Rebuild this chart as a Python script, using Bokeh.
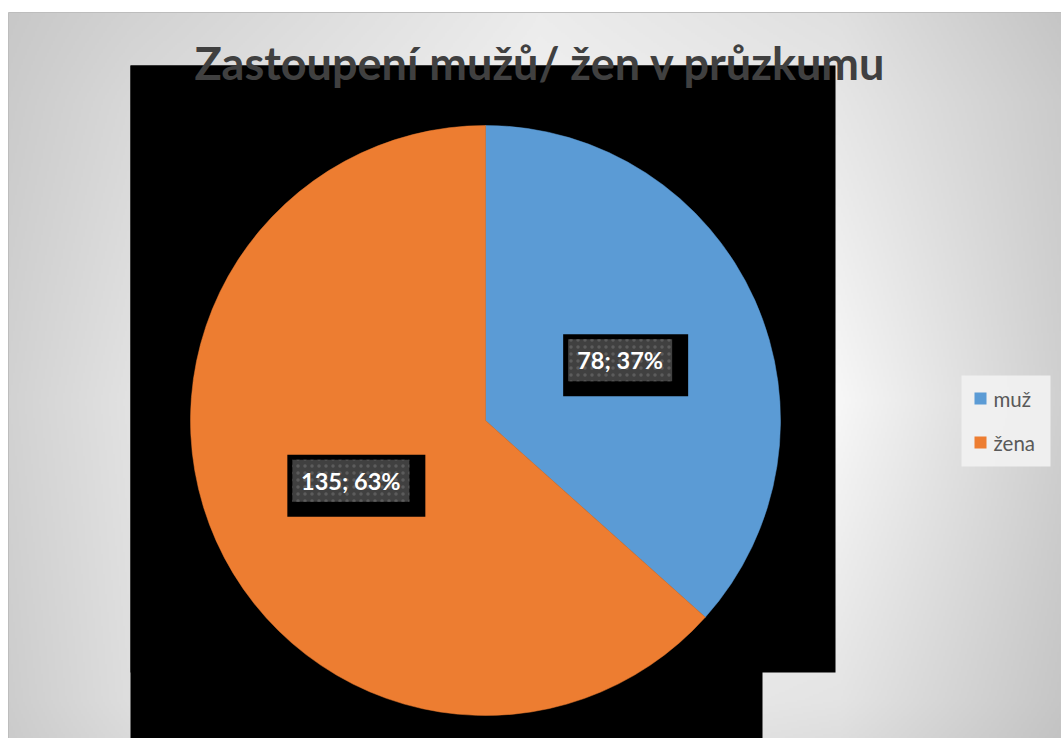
import numpy as np
from bokeh.plotting import figure
from bokeh.models import Range1d, ColumnDataSource
from bokeh.core.properties import value
from bokeh.embed import file_html
from bokeh.resources import INLINE

# ---- data ----
categories = ["muž", "žena"]
counts = [78, 135]
colors = ["#5b9bd5", "#ed7d31"]
title_text = "Zastoupení mužů/ žen v průzkumu"

W, H = 1061, 738
p = figure(width=W, height=H, x_range=Range1d(0, W), y_range=Range1d(0, H),
           output_backend="svg", toolbar_location=None, min_border=0,
           x_axis_type=None, y_axis_type=None)
p.grid.visible = False
p.outline_line_color = None
p.background_fill_color = "white"
p.border_fill_color = "white"

# ---- background gradient (style only) ----
gx = np.array([8, 130, 540, 840, 1061], dtype=float)
gy = np.array([12, 100, 400, 700, 738], dtype=float)  # screen y
gv = np.array([
    [200, 210, 236, 224, 197],
    [203, 216, 240, 230, 203],
    [210, 226, 245, 247, 208],
    [205, 222, 236, 228, 198],
    [203, 218, 232, 222, 195],
], dtype=float)
nx, ny = 527, 363
xs = 8 + (np.arange(nx) + 0.5) * (W - 8) / nx
ys_screen = H - (np.arange(ny) + 0.5) * (H - 12) / ny
rows = np.array([np.interp(xs, gx, gv[i]) for i in range(len(gy))])
grid = np.empty((ny, nx))
for j in range(nx):
    grid[:, j] = np.interp(ys_screen, gy, rows[:, j])
g = np.clip(grid, 0, 255).astype(np.uint8)
img = np.empty((ny, nx), dtype=np.uint32)
view = img.view(dtype=np.uint8).reshape((ny, nx, 4))
view[..., 0] = g
view[..., 1] = g
view[..., 2] = g
view[..., 3] = 255
p.image_rgba(image=[img], x=8, y=0, dw=W - 8, dh=H - 12)
p.quad(left=8, right=W + 2, bottom=-2, top=H - 12, fill_color=None,
       line_color="#bdbdbd", line_width=1)

# ---- black artefact shapes ----
p.quad(left=[130, 130], right=[835, 762], bottom=[H - 672, 0], top=[H - 65, H - 65],
       fill_color="black", line_color=None)

# ---- pie ----
cx, cy, r = 485, H - 420, 295
total = float(sum(counts))
cum = np.cumsum([0] + counts)
start = [np.pi / 2 - 2 * np.pi * cum[i] / total for i in range(len(counts))]
end = [np.pi / 2 - 2 * np.pi * cum[i + 1] / total for i in range(len(counts))]
src = ColumnDataSource(dict(start=start, end=end, color=colors, cat=categories))
p.wedge(x=cx, y=cy, radius=r, start_angle="start", end_angle="end", direction="clock",
        fill_color="color", line_color="color", line_width=0.5, source=src)

# ---- data labels ----
labels = [f"{c}; {round(100 * c / total)}%" for c in counts]
mids = [(s + e) / 2 for s, e in zip(start, end)]
lx = [cx + 0.5 * r * np.cos(m) for m in mids]
ly = [cy + 0.5 * r * np.sin(m) for m in mids]
bw = [13 * len(t) + 13 for t in labels]
bh = 42
p.quad(left=[x - w / 2 - 5 for x, w in zip(lx, bw)],
       right=[x + w / 2 + 16 for x, w in zip(lx, bw)],
       top=[y + bh / 2 + 5 for y in ly],
       bottom=[y - bh / 2 - 15 for y in ly],
       fill_color="black", line_color=None)
p.quad(left=[x - w / 2 for x, w in zip(lx, bw)],
       right=[x + w / 2 for x, w in zip(lx, bw)],
       top=[y + bh / 2 for y in ly],
       bottom=[y - bh / 2 for y in ly],
       fill_color="#404040", line_color=None,
       hatch_pattern="dot", hatch_color="#5c5c5c", hatch_scale=7, hatch_weight=1.5)
p.text(x=lx, y=ly, text=labels, text_color="white", text_font=value("Lato"),
       text_font_style="bold", text_font_size="23.5px", text_align="center",
       text_baseline="middle")

# ---- title ----
p.text(x=[540], y=[H - 62], text=[title_text], text_color="#404040",
       text_font=value("Lato"), text_font_style="bold", text_font_size="45px",
       text_align="center", text_baseline="alphabetic")

# ---- legend (manual) ----
p.quad(left=961, right=1050, top=H - 375, bottom=H - 466,
       fill_color="#f2f2f2", fill_alpha=0.9, line_color=None)
leg_y = [H - 398, H - 442]
p.quad(left=[974] * 2, right=[986] * 2, top=[y + 6 for y in leg_y],
       bottom=[y - 6 for y in leg_y], fill_color=colors, line_color=None)
p.text(x=[993] * 2, y=leg_y, text=categories, text_color="#595959",
       text_font=value("Lato"), text_font_size="20.5px", text_baseline="middle")

open("out.html", "w").write(file_html(p, INLINE))
